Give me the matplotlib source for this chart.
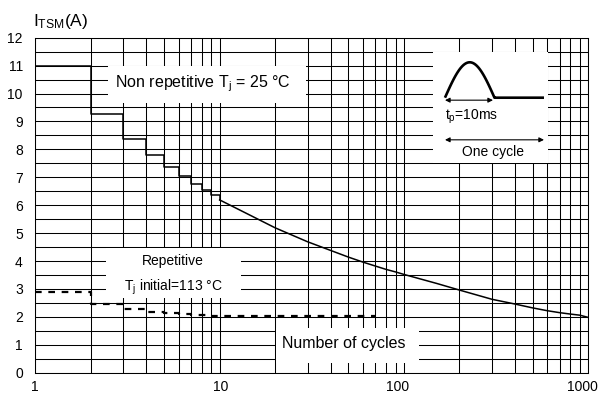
import numpy as np
import matplotlib
matplotlib.use("Agg")
import matplotlib.pyplot as plt
from matplotlib.ticker import LogLocator, FixedLocator, FixedFormatter, NullFormatter, MultipleLocator
from matplotlib.patches import Rectangle
from matplotlib.transforms import ScaledTranslation

plt.rcParams["font.family"] = ["Liberation Sans", "DejaVu Sans"]
plt.rcParams["mathtext.fontset"] = "custom"
plt.rcParams["mathtext.rm"] = "Liberation Sans"
plt.rcParams["mathtext.it"] = "Liberation Sans:italic"
plt.rcParams["mathtext.default"] = "regular"

# Non repetitive surge, Tj = 25 °C -- stepped part (1 to 10 cycles)
nonrep_step_cycles = [1, 2, 3, 4, 5, 6, 7, 8, 9, 10]
nonrep_step_itsm = [11.0, 9.26, 8.36, 7.79, 7.36, 7.03, 6.76, 6.56, 6.37, 6.19]

# Non repetitive surge -- continuous part (10 to 1000 cycles)
nonrep_cycles = [10, 20, 30, 40, 50, 60, 70, 80, 90, 100, 150, 200,
                 300, 400, 500, 600, 700, 800, 900, 1000]
nonrep_itsm = [6.19, 5.19, 4.69, 4.38, 4.14, 3.96, 3.82, 3.70, 3.61, 3.52,
               3.20, 2.96, 2.63, 2.46, 2.32, 2.22, 2.15, 2.10, 2.06, 1.98]

# Repetitive surge, Tj initial = 113 °C
rep_cycles = [1, 2, 3, 4, 5, 6, 7, 8, 9, 10, 70]
rep_itsm = [2.90, 2.47, 2.27, 2.19, 2.13, 2.10, 2.07, 2.05, 2.04, 2.02, 2.02]

x_ticks = [1, 10, 100, 1000]
x_tick_labels = ["1", "10", "100", "1000"]
y_ticks = list(range(0, 13))

W, H = 601, 395
fig = plt.figure(figsize=(W / 100, H / 100), dpi=100)
ax = fig.add_axes([35.3 / W, 1 - 372.7 / H, (588.3 - 35.3) / W, (372.7 - 37.7) / H])

ax.set_xscale("log")
ax.set_xlim(1, 1000)
ax.set_ylim(0, 12)

ax.xaxis.set_major_locator(FixedLocator(x_ticks))
ax.xaxis.set_major_formatter(FixedFormatter(x_tick_labels))
ax.xaxis.set_minor_locator(LogLocator(base=10, subs=np.arange(2, 10)))
ax.xaxis.set_minor_formatter(NullFormatter())
ax.yaxis.set_major_locator(FixedLocator(y_ticks))
ax.yaxis.set_minor_locator(MultipleLocator(0.5))

ax.set_axisbelow(True)
ax.grid(which="both", color="black", linewidth=0.75)
for sp in ax.spines.values():
    sp.set_color("black")
    sp.set_linewidth(0.75)
ax.tick_params(which="both", length=0, labelsize=10, colors="black")
ax.tick_params(axis="y", pad=9)
ax.tick_params(axis="x", pad=5)

# nudge the wider decade labels left so "1000" stays inside the figure
label_shift_px = [0, 1, -6, -6]
for lbl, dx in zip(ax.get_xticklabels(), label_shift_px):
    lbl.set_transform(lbl.get_transform()
                      + ScaledTranslation(dx / 100, 0, fig.dpi_scale_trans))

# white label panels over the grid
def panel(x0, x1, y0, y1):
    ax.add_patch(Rectangle((x0, y0), x1 - x0, y1 - y0, facecolor="white",
                           edgecolor="none", zorder=2))

panel(2.48, 29.4, 9.66, 10.97)
panel(2.42, 13.06, 2.675, 4.48)
panel(20.25, 120.7, 0.36, 1.61)

# curves
ax.plot(nonrep_step_cycles, nonrep_step_itsm, drawstyle="steps-post",
        color="black", linewidth=1.1, zorder=3)
ax.plot(nonrep_cycles, nonrep_itsm, color="black", linewidth=1.1, zorder=3)
ax.plot(rep_cycles, rep_itsm, drawstyle="steps-post", color="black",
        linewidth=1.6, dashes=(3, 3), zorder=3)

ax.text(2.707, 10.22, r"Non repetitive $T_j$ = 25 °C", fontsize=11.5,
        ha="left", va="baseline", zorder=4)
ax.text(5.59, 4.0, "Repetitive", fontsize=10, ha="center", va="center", zorder=4)
ax.text(5.59, 3.06, r"$T_j$ initial=113 °C", fontsize=10, ha="center",
        va="center", zorder=4)
ax.text(21.7, 0.874, "Number of cycles", fontsize=11.5, ha="left",
        va="baseline", zorder=4)

fig.text(33 / W, 1 - 26 / H, r"$I_{TSM}$(A)", fontsize=12.5, ha="left",
         va="baseline")

# pulse waveform sketch
axi = fig.add_axes([433 / W, 1 - 163 / H, 115 / W, 111 / H])
axi.set_xlim(-0.242, 2.081)
axi.set_ylim(-1.845, 1.291)
axi.set_facecolor("white")
for sp in axi.spines.values():
    sp.set_visible(False)
axi.set_xticks([])
axi.set_yticks([])

t = np.linspace(0, 1, 80)
axi.plot(np.concatenate([t, [2.0]]), np.concatenate([np.sin(np.pi * t), [0.0]]),
         color="black", linewidth=1.9, solid_capstyle="butt")

arrow = dict(arrowstyle="<|-|>", color="black", lw=0.8, mutation_scale=7,
             shrinkA=0, shrinkB=0)
axi.annotate("", xy=(0.97, -0.07), xytext=(0.0, -0.07), arrowprops=arrow)
axi.annotate("", xy=(2.0, -1.19), xytext=(0.0, -1.19), arrowprops=arrow)
axi.text(0.0, -0.54, r"$t_p$=10ms", fontsize=10, ha="left", va="center")
axi.text(0.96, -1.54, "One cycle", fontsize=10, ha="center", va="center")

fig.savefig("out.png", dpi=100)
